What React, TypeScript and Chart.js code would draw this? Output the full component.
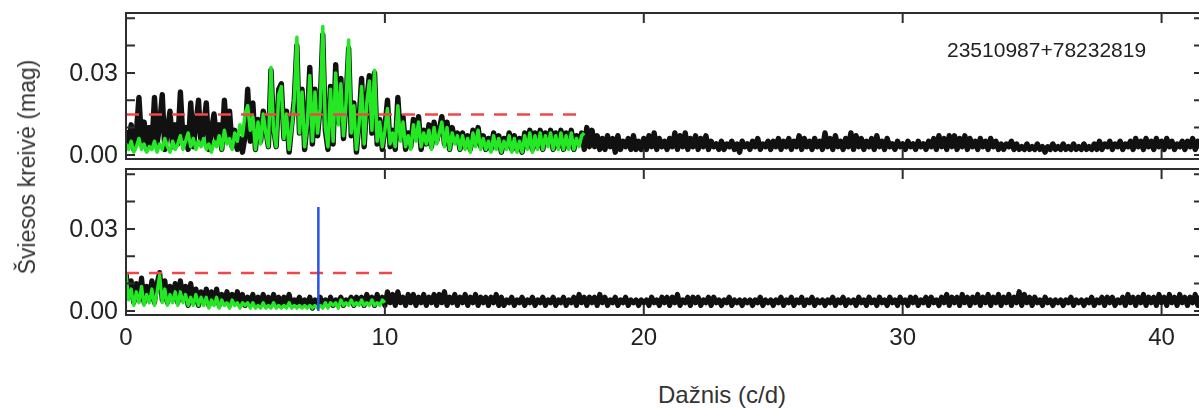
import { useEffect, useRef } from 'react';
import { Chart, registerables } from 'chart.js';

Chart.register(...registerables);

// Frequency grid of the periodograms (c/d)
const X_STEP = 0.1;
const X_MIN = 0;
const X_MAX = 41.6;

// Amplitudes in mmag, one value per 0.1 c/d
const TOP_BLACK = [
  9, 3, 11, 2, 8, 21, 5, 12, 2, 10,
  3, 21, 4, 11, 22, 2, 9, 16, 3, 11,
  4, 23, 6, 10, 2, 19, 3, 11, 20, 4,
  10, 19, 2, 9, 15, 5, 11, 2, 20, 6,
  16, 3, 9, 2, 6, 1, 7, 24, 5, 19,
  2, 13, 5, 16, 9, 3, 31, 10, 3, 24,
  26, 6, 16, 1, 11, 20, 40, 8, 24, 2,
  12, 32, 4, 24, 7, 18, 44, 9, 2, 25,
  4, 33, 12, 28, 6, 20, 39, 7, 19, 1,
  12, 28, 3, 20, 29, 8, 30, 4, 13, 2,
  10, 20, 3, 9, 2, 21, 6, 14, 2, 8,
  3, 13, 6, 14, 2, 9, 4, 11, 3, 12,
  5, 9, 14, 4, 12, 2, 10, 5, 8, 2,
  8, 3, 7, 2, 9, 4, 10, 3, 7, 2,
  6, 2, 8, 3, 7, 1, 6, 3, 8, 2,
  7, 2, 6, 1, 8, 3, 9, 2, 8, 3,
  9, 2, 8, 4, 9, 2, 8, 3, 9, 2,
  8, 3, 9, 2, 7, 4, 8, 2, 10, 3,
  9, 3, 7, 2, 6, 2, 7, 3, 6, 1,
  7, 2, 5, 3, 6, 2, 7, 2, 5, 2,
  6, 2, 7, 3, 8, 2, 6, 3, 5, 2,
  6, 3, 8, 2, 7, 3, 8, 2, 6, 3,
  7, 2, 6, 3, 7, 2, 5, 3, 4, 2,
  5, 2, 4, 3, 5, 2, 4, 1, 5, 3,
  4, 2, 5, 3, 6, 2, 4, 3, 5, 2,
  5, 3, 6, 2, 5, 3, 6, 2, 5, 3,
  7, 2, 6, 3, 5, 2, 6, 3, 5, 2,
  8, 3, 6, 2, 7, 3, 5, 2, 6, 3,
  8, 2, 7, 3, 6, 2, 5, 3, 6, 2,
  7, 3, 5, 2, 6, 3, 4, 2, 5, 3,
  4, 2, 5, 3, 4, 2, 5, 3, 4, 2,
  5, 3, 6, 2, 7, 3, 6, 2, 7, 3,
  7, 2, 6, 3, 7, 2, 6, 3, 5, 2,
  6, 3, 5, 2, 6, 3, 5, 2, 4, 2,
  4, 3, 5, 2, 4, 2, 3, 2, 4, 2,
  3, 2, 4, 2, 3, 1, 3, 2, 4, 2,
  3, 2, 4, 2, 3, 2, 4, 2, 3, 2,
  4, 2, 3, 2, 4, 2, 5, 2, 4, 3,
  5, 2, 4, 3, 5, 2, 4, 3, 5, 2,
  6, 3, 5, 2, 6, 3, 5, 2, 6, 3,
  5, 2, 6, 3, 5, 2, 4, 3, 5, 2,
  5, 3, 6, 2, 5, 3, 4,
];

const TOP_GREEN = [
  4, 2, 5, 1, 3, 6, 2, 4, 1, 3,
  2, 5, 1, 4, 2, 6, 3, 1, 5, 2,
  4, 7, 2, 5, 8, 3, 6, 2, 5, 3,
  6, 2, 4, 1, 5, 3, 7, 2, 9, 4,
  6, 2, 8, 5, 11, 7, 15, 18, 9, 14,
  2, 12, 4, 15, 8, 3, 32, 9, 3, 22,
  25, 6, 15, 2, 10, 20, 43, 8, 23, 3,
  11, 29, 5, 23, 8, 17, 47, 10, 3, 24,
  5, 30, 11, 26, 7, 19, 42, 8, 18, 2,
  11, 25, 4, 19, 27, 9, 31, 5, 12, 3,
  9, 17, 4, 8, 3, 18, 5, 12, 3, 7,
  2, 11, 5, 12, 3, 8, 4, 9, 2, 10,
  4, 8, 12, 3, 10, 2, 8, 4, 7, 2,
  7, 2, 6, 1, 8, 3, 9, 2, 6, 2,
  5, 1, 7, 2, 6, 1, 5, 2, 7, 1,
  6, 1, 5, 1, 7, 2, 8, 1, 7, 2,
  8, 2, 7, 3, 8, 2, 7, 2, 8, 2,
  7, 2, 8, 2, 6, 3, 7, 8,
];

const BOTTOM_BLACK = [
  14, 5, 11, 3, 10, 4, 12, 3, 9, 4,
  11, 3, 10, 14, 4, 11, 3, 9, 4, 10,
  3, 11, 4, 9, 2, 10, 3, 8, 2, 7,
  3, 8, 2, 7, 3, 8, 2, 6, 3, 7,
  2, 6, 3, 7, 2, 6, 2, 5, 3, 6,
  2, 5, 3, 6, 2, 5, 2, 6, 3, 5,
  2, 5, 3, 6, 2, 4, 3, 5, 2, 4,
  2, 5, 1, 4, 2, 5, 2, 4, 2, 5,
  2, 4, 3, 5, 2, 4, 3, 5, 2, 5,
  3, 5, 2, 6, 3, 5, 2, 6, 3, 5,
  2, 7, 3, 6, 2, 7, 3, 5, 2, 6,
  3, 6, 2, 5, 3, 6, 2, 5, 3, 6,
  2, 6, 3, 7, 2, 5, 3, 6, 2, 5,
  3, 6, 2, 5, 3, 6, 2, 5, 3, 5,
  2, 5, 3, 6, 2, 5, 2, 4, 3, 5,
  2, 4, 3, 5, 2, 4, 3, 5, 2, 4,
  3, 5, 2, 4, 3, 5, 2, 4, 3, 5,
  2, 4, 3, 5, 2, 6, 3, 5, 2, 5,
  3, 5, 2, 6, 3, 5, 2, 4, 3, 5,
  2, 4, 3, 5, 2, 4, 3, 4, 2, 4,
  3, 4, 2, 5, 3, 4, 2, 5, 3, 5,
  2, 5, 3, 6, 2, 4, 3, 5, 2, 5,
  3, 5, 2, 4, 3, 5, 2, 5, 3, 4,
  2, 4, 3, 5, 2, 4, 3, 4, 2, 4,
  3, 4, 2, 4, 3, 5, 2, 4, 3, 4,
  2, 4, 3, 5, 2, 4, 3, 5, 2, 4,
  3, 5, 2, 4, 3, 5, 2, 4, 3, 4,
  2, 4, 3, 5, 2, 4, 3, 5, 2, 4,
  3, 4, 2, 5, 3, 4, 2, 5, 3, 4,
  2, 5, 3, 4, 2, 5, 3, 4, 2, 5,
  3, 4, 2, 5, 3, 5, 2, 4, 3, 5,
  2, 5, 3, 4, 2, 5, 3, 6, 2, 5,
  3, 5, 2, 6, 3, 5, 2, 5, 3, 6,
  2, 5, 3, 6, 2, 5, 3, 6, 2, 5,
  3, 6, 2, 5, 3, 7, 2, 6, 3, 5,
  2, 5, 3, 4, 2, 5, 3, 4, 2, 4,
  3, 4, 2, 4, 3, 5, 2, 4, 3, 4,
  2, 4, 3, 5, 2, 4, 3, 5, 2, 5,
  3, 5, 2, 4, 3, 5, 2, 6, 3, 5,
  2, 5, 3, 6, 2, 5, 3, 5, 2, 6,
  3, 5, 2, 6, 3, 5, 2, 6, 3, 5,
  2, 5, 3, 6, 2, 5, 3,
];

const BOTTOM_GREEN = [
  14, 4, 8, 2, 7, 3, 9, 2, 6, 3,
  8, 2, 7, 13, 3, 8, 2, 6, 3, 7,
  2, 7, 3, 6, 2, 5, 2, 6, 2, 5,
  2, 5, 1, 4, 2, 5, 1, 4, 2, 3,
  1, 4, 2, 3, 1, 3, 2, 3, 1, 3,
  1, 2, 1, 3, 1, 2, 1, 3, 1, 2,
  1, 2, 1, 3, 1, 2, 1, 2, 1, 2,
  1, 2, 1, 2, 1, 2, 1, 3, 1, 3,
  2, 3, 1, 4, 2, 3, 2, 4, 2, 3,
  2, 4, 2, 3, 2, 4, 2, 3, 2, 4,
  3,
];

// Significance thresholds (mag) and their frequency extent (c/d)
const TOP_THRESHOLD = 0.0148;
const TOP_THRESHOLD_END = 17.7;
const BOTTOM_THRESHOLD = 0.0139;
const BOTTOM_THRESHOLD_END = 10.3;

// Detected frequency marker
const PEAK_FREQ = 7.43;
const PEAK_AMP = 0.038;

const X_TICKS = [0, 10, 20, 30, 40];
const Y_TICKS = [0, 0.01, 0.02, 0.03, 0.04, 0.05];
const Y_LABEL_VALUES = [0, 0.03];
const Y_LABELS = ['0.00', '0.03'];
const Y_MIN = -0.0015;
const Y_MAX = 0.0519;

const STAR_ID = '23510987+78232819';
const Y_TITLE = 'Šviesos kreivė (mag)';
const X_TITLE = 'Dažnis (c/d)';

const FONT = "'Liberation Sans', Arial, Helvetica, sans-serif";
const C_BLACK = '#111111';
const C_GREEN = '#24e824';
const C_RED = '#f04848';
const C_BLUE = '#2a52e4';
const C_FRAME = '#2e2e2e';
const C_TEXT = '#222222';

const toPoints = (arr: number[]) =>
  arr.map((v, i) => ({ x: Math.round(i * X_STEP * 100) / 100, y: v / 1000 }));

const framePlugin = {
  id: 'panelFrame',
  afterDatasetsDraw(chart: any) {
    const { ctx, chartArea: a, scales } = chart;
    ctx.save();
    ctx.strokeStyle = C_FRAME;
    ctx.lineWidth = 2;
    ctx.strokeRect(a.left, a.top, a.right - a.left, a.bottom - a.top);
    ctx.beginPath();
    for (const v of Y_TICKS) {
      const y = scales.y.getPixelForValue(v);
      ctx.moveTo(a.left, y);
      ctx.lineTo(a.left + 9, y);
      ctx.moveTo(a.right, y);
      ctx.lineTo(a.right - 9, y);
    }
    for (const v of X_TICKS) {
      if (v === X_MIN) continue;
      const x = scales.x.getPixelForValue(v);
      ctx.moveTo(x, a.top);
      ctx.lineTo(x, a.top + 10);
      ctx.moveTo(x, a.bottom);
      ctx.lineTo(x, a.bottom - 10);
    }
    ctx.stroke();
    // y tick labels, placed with the y scale
    ctx.fillStyle = C_TEXT;
    ctx.font = `25px ${FONT}`;
    ctx.textAlign = 'right';
    ctx.textBaseline = 'middle';
    Y_LABEL_VALUES.forEach((v, i) => {
      ctx.fillText(Y_LABELS[i], a.left - 8, scales.y.getPixelForValue(v) + 1);
    });
    ctx.restore();
  },
};

const lineDs = (data: any[], color: string, width: number, order: number, extra: any = {}) => ({
  data,
  borderColor: color,
  backgroundColor: color,
  borderWidth: width,
  pointRadius: 0,
  tension: 0,
  borderJoinStyle: 'round',
  borderCapStyle: 'butt',
  fill: false,
  order,
  ...extra,
});

function buildConfig(datasets: any[], showX: boolean, padding: any) {
  return {
    type: 'line',
    data: { datasets },
    plugins: [framePlugin],
    options: {
      animation: false,
      responsive: false,
      maintainAspectRatio: false,
      events: [],
      layout: { padding },
      plugins: { legend: { display: false }, tooltip: { enabled: false } },
      scales: {
        x: {
          type: 'linear',
          min: X_MIN,
          max: X_MAX,
          display: showX,
          grid: { display: false, drawTicks: false },
          border: { display: false },
          afterFit: (s: any) => {
            if (showX) s.height = 45;
          },
          ticks: {
            stepSize: 10,
            includeBounds: false,
            autoSkip: false,
            maxRotation: 0,
            padding: 9,
            color: C_TEXT,
            font: { family: FONT, size: 24 },
            callback: (v: number) => (X_TICKS.includes(v) ? String(v) : ''),
          },
        },
        y: {
          type: 'linear',
          position: 'left',
          min: Y_MIN,
          max: Y_MAX,
          grid: { display: false, drawTicks: false },
          border: { display: false },
          afterFit: (s: any) => {
            s.width = 126;
          },
          ticks: { display: false, stepSize: 0.01, includeBounds: false },
        },
      },
    },
  } as any;
}

export default function App() {
  const topRef = useRef<HTMLCanvasElement>(null);
  const botRef = useRef<HTMLCanvasElement>(null);

  useEffect(() => {
    document.body.style.margin = '0';
    const top = new Chart(
      topRef.current as HTMLCanvasElement,
      buildConfig(
        [
          lineDs(
            [
              { x: X_MIN, y: TOP_THRESHOLD },
              { x: TOP_THRESHOLD_END, y: TOP_THRESHOLD },
            ],
            C_RED,
            2.5,
            0,
            { borderDash: [13, 10] }
          ),
          lineDs(toPoints(TOP_GREEN), C_GREEN, 3.5, 1),
          lineDs(toPoints(TOP_BLACK), C_BLACK, 5.4, 2),
        ],
        false,
        { top: 13, bottom: 6, left: 0, right: 12 }
      )
    );
    const bot = new Chart(
      botRef.current as HTMLCanvasElement,
      buildConfig(
        [
          lineDs(
            [
              { x: PEAK_FREQ, y: 0 },
              { x: PEAK_FREQ, y: PEAK_AMP },
            ],
            C_BLUE,
            2.5,
            -1
          ),
          lineDs(
            [
              { x: X_MIN, y: BOTTOM_THRESHOLD },
              { x: BOTTOM_THRESHOLD_END, y: BOTTOM_THRESHOLD },
            ],
            C_RED,
            2.5,
            0,
            { borderDash: [13, 10] }
          ),
          lineDs(toPoints(BOTTOM_GREEN), C_GREEN, 3.3, 1),
          lineDs(toPoints(BOTTOM_BLACK), C_BLACK, 5.2, 2),
        ],
        true,
        { top: 9, bottom: 0, left: 0, right: 12 }
      )
    );
    return () => {
      top.destroy();
      bot.destroy();
    };
  }, []);

  return (
    <div
      style={{
        position: 'absolute',
        left: 0,
        top: 0,
        width: 1199,
        height: 411,
        overflow: 'hidden',
        background: '#ffffff',
        fontFamily: FONT,
        color: C_TEXT,
      }}
    >
      <canvas ref={topRef} width={1215} height={165} style={{ position: 'absolute', left: 0, top: 0 }} />
      <canvas ref={botRef} width={1215} height={200} style={{ position: 'absolute', left: 0, top: 160 }} />
      <div
        style={{
          position: 'absolute',
          left: 947,
          top: 38,
          fontSize: 21,
          lineHeight: '24px',
          whiteSpace: 'nowrap',
        }}
      >
        {STAR_ID}
      </div>
      <div
        style={{
          position: 'absolute',
          left: 27,
          top: 167,
          transform: 'translate(-50%, -50%) rotate(-90deg)',
          fontSize: 23,
          lineHeight: '28px',
          whiteSpace: 'nowrap',
          color: '#333333',
        }}
      >
        {Y_TITLE}
      </div>
      <div
        style={{
          position: 'absolute',
          left: 722,
          top: 395,
          transform: 'translate(-50%, -50%)',
          fontSize: 24,
          lineHeight: '28px',
          whiteSpace: 'nowrap',
          color: '#333333',
        }}
      >
        {X_TITLE}
      </div>
    </div>
  );
}
